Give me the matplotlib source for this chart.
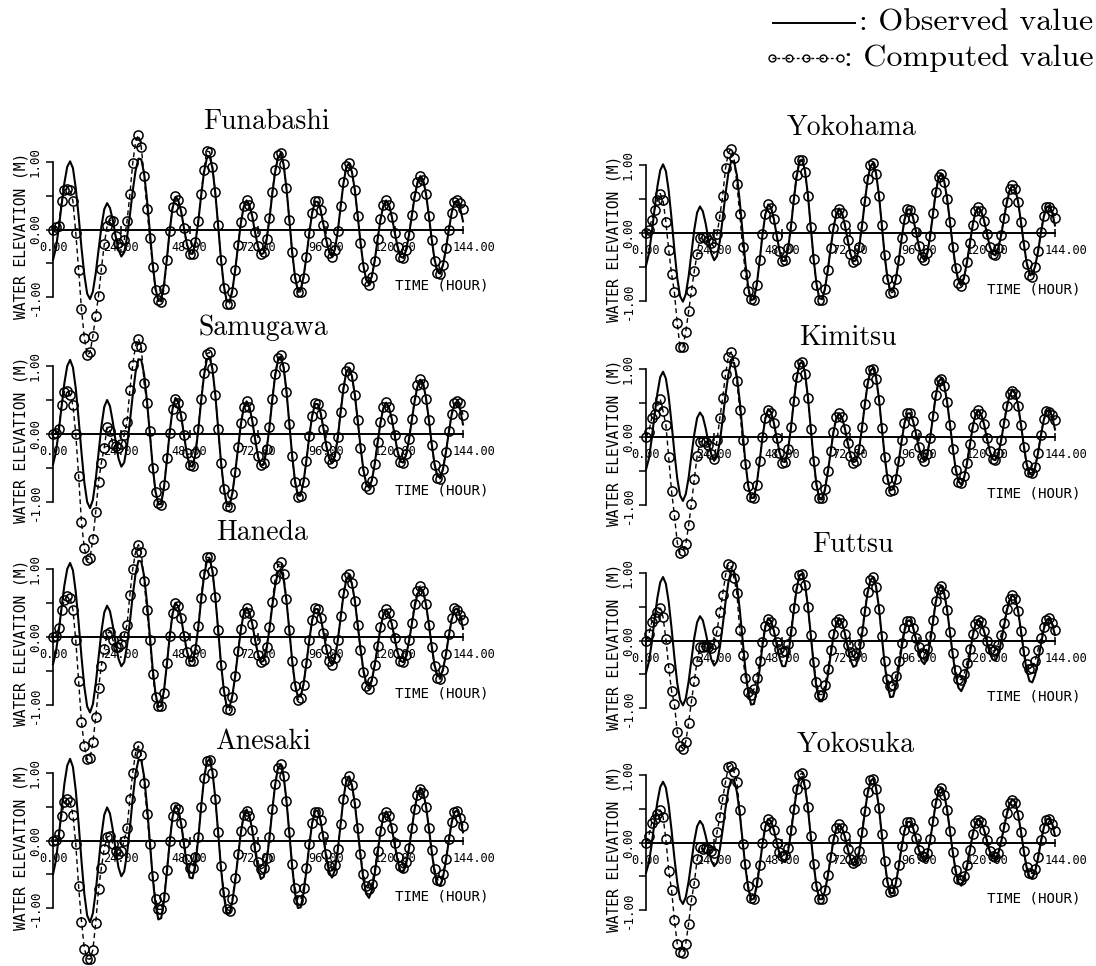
import matplotlib
matplotlib.use("Agg")
import matplotlib.pyplot as plt
from matplotlib.lines import Line2D
from matplotlib.transforms import ScaledTranslation

# ---------------------------------------------------------------- data
hours = list(range(0, 145))

station_names = ["Funabashi", "Samugawa", "Haneda", "Anesaki",
                 "Yokohama", "Kimitsu", "Futtsu", "Yokosuka"]
x_tick_hours = [0, 24, 48, 72, 96, 120, 144]
x_tick_text = ["0.00", "24.00", "48.00", "72.00", "96.00", "120.00", "144.00"]
y_tick_values = [-1.0, -0.5, 0.0, 0.5, 1.0]
y_tick_text = ["-1.00", "", "0.00", "", "1.00"]

funabashi_observed = [
    -0.45, -0.28, 0.01, 0.36, 0.69, 0.93, 1.01, 0.91, 0.61, 0.20,
    -0.27, -0.67, -0.95, -1.03, -0.92, -0.65, -0.30, 0.04, 0.30, 0.39,
    0.32, 0.14, -0.10, -0.30, -0.40, -0.34, -0.12, 0.21, 0.57, 0.87,
    1.05, 1.04, 0.83, 0.45, -0.03, -0.50, -0.87, -1.06, -1.04, -0.81,
    -0.43, -0.01, 0.32, 0.48, 0.43, 0.27, 0.02, -0.21, -0.35, -0.36,
    -0.20, 0.11, 0.49, 0.84, 1.05, 1.09, 0.91, 0.54, 0.06, -0.44,
    -0.83, -1.06, -1.07, -0.90, -0.60, -0.24, 0.10, 0.34, 0.43, 0.36,
    0.19, -0.05, -0.25, -0.37, -0.35, -0.16, 0.15, 0.52, 0.85, 1.06,
    1.12, 0.96, 0.61, 0.15, -0.33, -0.70, -0.90, -0.89, -0.70, -0.40,
    -0.06, 0.24, 0.41, 0.41, 0.29, 0.07, -0.16, -0.33, -0.40, -0.30,
    -0.03, 0.33, 0.68, 0.92, 0.98, 0.85, 0.59, 0.21, -0.19, -0.53,
    -0.74, -0.80, -0.69, -0.46, -0.15, 0.14, 0.35, 0.43, 0.37, 0.19,
    -0.04, -0.25, -0.40, -0.42, -0.31, -0.09, 0.20, 0.48, 0.69, 0.79,
    0.74, 0.53, 0.21, -0.14, -0.44, -0.62, -0.64, -0.52, -0.29, -0.01,
    0.24, 0.40, 0.42, 0.32, 0.12]
funabashi_computed = [
    0.00, 0.03, 0.05, 0.42, 0.58, 0.60, 0.59, 0.42, -0.05, -0.60,
    -1.18, -1.60, -1.86, -1.82, -1.58, -1.28, -0.98, -0.58, -0.22, 0.05,
    0.14, 0.12, -0.10, -0.20, -0.26, -0.16, 0.12, 0.52, 0.98, 1.30,
    1.40, 1.22, 0.80, 0.30, -0.12, -0.55, -0.90, -1.04, -1.07, -0.88,
    -0.45, -0.02, 0.33, 0.50, 0.44, 0.27, 0.02, -0.22, -0.36, -0.36,
    -0.19, 0.13, 0.52, 0.88, 1.16, 1.15, 0.93, 0.55, 0.06, -0.45,
    -0.86, -1.10, -1.10, -0.92, -0.60, -0.23, 0.11, 0.35, 0.44, 0.37,
    0.20, -0.04, -0.25, -0.37, -0.34, -0.14, 0.17, 0.55, 0.88, 1.10,
    1.14, 0.97, 0.61, 0.14, -0.34, -0.72, -0.93, -0.92, -0.72, -0.40,
    -0.05, 0.25, 0.42, 0.42, 0.29, 0.06, -0.18, -0.35, -0.41, -0.30,
    -0.02, 0.35, 0.70, 0.94, 0.98, 0.85, 0.58, 0.20, -0.20, -0.55,
    -0.77, -0.82, -0.70, -0.46, -0.14, 0.15, 0.36, 0.43, 0.37, 0.19,
    -0.05, -0.26, -0.41, -0.42, -0.30, -0.08, 0.22, 0.50, 0.71, 0.79,
    0.73, 0.52, 0.20, -0.15, -0.46, -0.64, -0.66, -0.53, -0.28, 0.00,
    0.25, 0.41, 0.43, 0.40, 0.30]

samugawa_observed = [
    -0.45, -0.27, 0.03, 0.40, 0.75, 1.00, 1.09, 0.98, 0.67, 0.22,
    -0.27, -0.71, -1.00, -1.09, -0.97, -0.67, -0.28, 0.11, 0.40, 0.50,
    0.41, 0.18, -0.11, -0.36, -0.48, -0.42, -0.18, 0.18, 0.57, 0.91,
    1.10, 1.09, 0.88, 0.49, 0.01, -0.47, -0.84, -1.04, -1.02, -0.78,
    -0.39, 0.03, 0.37, 0.53, 0.48, 0.27, -0.02, -0.29, -0.47, -0.48,
    -0.30, 0.05, 0.47, 0.85, 1.09, 1.13, 0.95, 0.58, 0.09, -0.41,
    -0.79, -1.03, -1.04, -0.87, -0.56, -0.20, 0.15, 0.39, 0.48, 0.40,
    0.19, -0.08, -0.33, -0.47, -0.45, -0.24, 0.09, 0.49, 0.85, 1.08,
    1.14, 0.98, 0.63, 0.16, -0.32, -0.69, -0.90, -0.89, -0.70, -0.39,
    -0.04, 0.26, 0.44, 0.44, 0.31, 0.08, -0.17, -0.36, -0.43, -0.33,
    -0.06, 0.31, 0.66, 0.91, 0.97, 0.85, 0.58, 0.21, -0.18, -0.52,
    -0.73, -0.79, -0.68, -0.44, -0.13, 0.16, 0.38, 0.46, 0.39, 0.22,
    -0.02, -0.25, -0.40, -0.42, -0.31, -0.09, 0.20, 0.48, 0.70, 0.80,
    0.75, 0.53, 0.22, -0.14, -0.44, -0.62, -0.64, -0.51, -0.27, 0.02,
    0.28, 0.44, 0.47, 0.36, 0.14]
samugawa_computed = [
    0.00, 0.01, 0.08, 0.43, 0.62, 0.63, 0.58, 0.42, 0.00, -0.62,
    -1.30, -1.68, -1.85, -1.82, -1.55, -1.15, -0.70, -0.42, -0.20, 0.10,
    0.05, -0.15, -0.18, -0.20, -0.15, -0.02, 0.18, 0.65, 1.02, 1.30,
    1.40, 1.28, 0.75, 0.45, 0.05, -0.50, -0.86, -1.02, -1.04, -0.75,
    -0.36, 0.02, 0.37, 0.51, 0.46, 0.27, -0.01, -0.28, -0.45, -0.47,
    -0.28, 0.08, 0.51, 0.90, 1.18, 1.20, 0.97, 0.58, 0.08, -0.42,
    -0.81, -1.06, -1.07, -0.88, -0.56, -0.19, 0.16, 0.40, 0.48, 0.40,
    0.19, -0.08, -0.33, -0.46, -0.43, -0.22, 0.11, 0.52, 0.88, 1.12,
    1.16, 0.98, 0.62, 0.15, -0.33, -0.71, -0.92, -0.91, -0.71, -0.39,
    -0.03, 0.27, 0.45, 0.44, 0.30, 0.07, -0.18, -0.37, -0.43, -0.32,
    -0.04, 0.33, 0.68, 0.93, 0.98, 0.85, 0.57, 0.20, -0.20, -0.54,
    -0.76, -0.81, -0.69, -0.44, -0.12, 0.17, 0.39, 0.47, 0.40, 0.22,
    -0.02, -0.26, -0.41, -0.42, -0.30, -0.07, 0.22, 0.50, 0.72, 0.81,
    0.74, 0.52, 0.20, -0.16, -0.46, -0.64, -0.66, -0.52, -0.26, 0.04,
    0.30, 0.45, 0.48, 0.45, 0.28]

haneda_observed = [
    -0.40, -0.23, 0.07, 0.43, 0.76, 1.00, 1.09, 0.98, 0.66, 0.21,
    -0.29, -0.73, -1.02, -1.11, -0.99, -0.69, -0.31, 0.08, 0.36, 0.46,
    0.38, 0.17, -0.09, -0.32, -0.43, -0.37, -0.13, 0.22, 0.61, 0.93,
    1.12, 1.11, 0.90, 0.51, 0.02, -0.46, -0.83, -1.03, -1.01, -0.78,
    -0.40, 0.01, 0.34, 0.50, 0.45, 0.28, 0.03, -0.20, -0.35, -0.36,
    -0.19, 0.13, 0.53, 0.88, 1.11, 1.15, 0.97, 0.59, 0.11, -0.39,
    -0.78, -1.02, -1.03, -0.86, -0.57, -0.22, 0.11, 0.35, 0.43, 0.36,
    0.19, -0.05, -0.25, -0.37, -0.35, -0.18, 0.11, 0.45, 0.75, 0.95,
    1.00, 0.85, 0.53, 0.10, -0.35, -0.69, -0.88, -0.87, -0.69, -0.39,
    -0.05, 0.24, 0.41, 0.41, 0.29, 0.07, -0.17, -0.34, -0.41, -0.32,
    -0.06, 0.28, 0.61, 0.84, 0.90, 0.78, 0.54, 0.19, -0.17, -0.48,
    -0.68, -0.73, -0.63, -0.41, -0.14, 0.13, 0.33, 0.40, 0.34, 0.19,
    -0.02, -0.22, -0.35, -0.37, -0.28, -0.07, 0.18, 0.44, 0.63, 0.72,
    0.67, 0.48, 0.19, -0.13, -0.41, -0.57, -0.59, -0.47, -0.26, 0.01,
    0.25, 0.40, 0.42, 0.32, 0.12]
haneda_computed = [
    0.00, 0.01, 0.13, 0.40, 0.54, 0.61, 0.58, 0.40, -0.05, -0.65,
    -1.25, -1.60, -1.80, -1.78, -1.55, -1.18, -0.75, -0.42, -0.18, 0.05,
    0.08, -0.04, -0.15, -0.15, -0.10, 0.02, 0.18, 0.62, 1.00, 1.25,
    1.36, 1.25, 0.82, 0.40, -0.05, -0.55, -0.88, -1.02, -1.02, -0.82,
    -0.38, 0.02, 0.35, 0.50, 0.45, 0.28, 0.02, -0.22, -0.36, -0.35,
    -0.17, 0.16, 0.57, 0.92, 1.17, 1.17, 0.97, 0.59, 0.10, -0.41,
    -0.80, -1.06, -1.08, -0.88, -0.57, -0.21, 0.12, 0.36, 0.43, 0.36,
    0.19, -0.05, -0.26, -0.37, -0.34, -0.15, 0.15, 0.52, 0.85, 1.05,
    1.10, 0.92, 0.56, 0.10, -0.36, -0.72, -0.92, -0.90, -0.70, -0.38,
    -0.04, 0.25, 0.42, 0.41, 0.28, 0.06, -0.18, -0.35, -0.41, -0.31,
    -0.04, 0.31, 0.64, 0.88, 0.92, 0.79, 0.53, 0.18, -0.19, -0.52,
    -0.72, -0.77, -0.65, -0.41, -0.13, 0.14, 0.34, 0.41, 0.35, 0.19,
    -0.02, -0.23, -0.36, -0.37, -0.27, -0.05, 0.21, 0.48, 0.68, 0.75,
    0.68, 0.48, 0.18, -0.15, -0.43, -0.60, -0.62, -0.49, -0.25, 0.04,
    0.28, 0.42, 0.40, 0.33, 0.25]

anesaki_observed = [
    -0.50, -0.30, 0.04, 0.45, 0.84, 1.11, 1.21, 1.09, 0.74, 0.25,
    -0.30, -0.79, -1.11, -1.21, -1.08, -0.76, -0.34, 0.07, 0.38, 0.49,
    0.40, 0.16, -0.14, -0.40, -0.53, -0.46, -0.20, 0.19, 0.62, 0.99,
    1.19, 1.19, 0.95, 0.52, -0.01, -0.54, -0.95, -1.17, -1.15, -0.89,
    -0.47, -0.02, 0.35, 0.52, 0.46, 0.25, -0.06, -0.36, -0.55, -0.56,
    -0.36, 0.02, 0.48, 0.90, 1.16, 1.21, 1.02, 0.63, 0.12, -0.41,
    -0.82, -1.07, -1.08, -0.90, -0.60, -0.23, 0.12, 0.37, 0.46, 0.37,
    0.15, -0.15, -0.42, -0.57, -0.54, -0.33, 0.03, 0.44, 0.82, 1.07,
    1.13, 0.96, 0.59, 0.11, -0.39, -0.78, -1.00, -0.99, -0.78, -0.45,
    -0.07, 0.25, 0.44, 0.44, 0.29, 0.03, -0.26, -0.47, -0.55, -0.44,
    -0.15, 0.24, 0.62, 0.88, 0.95, 0.82, 0.55, 0.17, -0.23, -0.57,
    -0.79, -0.85, -0.74, -0.49, -0.18, 0.12, 0.35, 0.43, 0.36, 0.18,
    -0.06, -0.29, -0.45, -0.47, -0.36, -0.13, 0.17, 0.46, 0.68, 0.78,
    0.72, 0.51, 0.19, -0.16, -0.47, -0.65, -0.67, -0.54, -0.30, -0.01,
    0.26, 0.42, 0.45, 0.34, 0.12]
anesaki_computed = [
    0.00, 0.01, 0.09, 0.36, 0.57, 0.62, 0.57, 0.38, -0.05, -0.68,
    -1.20, -1.60, -1.75, -1.76, -1.62, -1.22, -0.72, -0.40, -0.12, 0.05,
    0.07, -0.05, -0.16, -0.20, -0.15, 0.00, 0.18, 0.62, 1.00, 1.30,
    1.40, 1.26, 0.85, 0.40, -0.05, -0.52, -0.86, -1.02, -1.02, -0.84,
    -0.43, 0.00, 0.36, 0.50, 0.46, 0.26, -0.03, -0.27, -0.40, -0.40,
    -0.25, 0.05, 0.50, 0.92, 1.18, 1.20, 1.00, 0.62, 0.12, -0.38,
    -0.76, -1.02, -1.04, -0.86, -0.55, -0.20, 0.14, 0.38, 0.44, 0.36,
    0.16, -0.10, -0.32, -0.42, -0.40, -0.26, 0.05, 0.46, 0.84, 1.08,
    1.13, 0.95, 0.58, 0.12, -0.35, -0.70, -0.88, -0.88, -0.70, -0.40,
    -0.05, 0.26, 0.42, 0.42, 0.30, 0.06, -0.20, -0.38, -0.45, -0.37,
    -0.12, 0.25, 0.62, 0.88, 0.95, 0.82, 0.55, 0.18, -0.20, -0.50,
    -0.68, -0.72, -0.64, -0.43, -0.15, 0.14, 0.35, 0.42, 0.37, 0.19,
    -0.04, -0.24, -0.38, -0.41, -0.32, -0.11, 0.19, 0.47, 0.68, 0.77,
    0.71, 0.50, 0.18, -0.14, -0.42, -0.58, -0.60, -0.49, -0.27, 0.02,
    0.28, 0.42, 0.43, 0.34, 0.22]

yokohama_observed = [
    -0.48, -0.31, -0.01, 0.35, 0.68, 0.92, 1.01, 0.91, 0.62, 0.21,
    -0.25, -0.66, -0.93, -1.01, -0.90, -0.64, -0.29, 0.05, 0.30, 0.39,
    0.32, 0.14, -0.10, -0.30, -0.40, -0.34, -0.12, 0.21, 0.58, 0.88,
    1.06, 1.05, 0.85, 0.47, 0.01, -0.45, -0.80, -0.99, -0.97, -0.76,
    -0.41, -0.03, 0.27, 0.42, 0.38, 0.21, -0.03, -0.26, -0.41, -0.41,
    -0.24, 0.08, 0.47, 0.82, 1.04, 1.08, 0.91, 0.56, 0.10, -0.37,
    -0.74, -0.96, -0.97, -0.82, -0.55, -0.23, 0.07, 0.28, 0.36, 0.30,
    0.12, -0.10, -0.31, -0.42, -0.40, -0.22, 0.09, 0.44, 0.77, 0.98,
    1.03, 0.88, 0.56, 0.13, -0.32, -0.66, -0.85, -0.84, -0.67, -0.40,
    -0.08, 0.19, 0.34, 0.35, 0.23, 0.03, -0.18, -0.34, -0.40, -0.31,
    -0.06, 0.27, 0.59, 0.81, 0.87, 0.76, 0.51, 0.17, -0.19, -0.50,
    -0.70, -0.75, -0.65, -0.43, -0.16, 0.11, 0.31, 0.38, 0.33, 0.19,
    0.00, -0.19, -0.30, -0.33, -0.23, -0.04, 0.20, 0.44, 0.62, 0.70,
    0.65, 0.46, 0.17, -0.15, -0.43, -0.59, -0.61, -0.49, -0.28, -0.01,
    0.23, 0.38, 0.40, 0.30, 0.11]
yokohama_computed = [
    0.00, 0.05, 0.19, 0.34, 0.48, 0.58, 0.48, 0.16, -0.25, -0.60,
    -0.87, -1.33, -1.68, -1.68, -1.45, -1.15, -0.85, -0.56, -0.31, -0.08,
    -0.06, -0.06, -0.10, -0.15, -0.21, -0.02, 0.25, 0.55, 0.95, 1.18,
    1.24, 1.10, 0.72, 0.28, -0.20, -0.60, -0.86, -0.97, -0.98, -0.76,
    -0.40, -0.02, 0.28, 0.42, 0.37, 0.20, -0.04, -0.27, -0.41, -0.40,
    -0.22, 0.10, 0.50, 0.85, 1.07, 1.08, 0.90, 0.55, 0.09, -0.38,
    -0.76, -0.98, -0.99, -0.83, -0.55, -0.22, 0.08, 0.29, 0.36, 0.30,
    0.12, -0.10, -0.31, -0.42, -0.39, -0.20, 0.11, 0.47, 0.80, 1.00,
    1.03, 0.87, 0.55, 0.12, -0.33, -0.68, -0.88, -0.87, -0.68, -0.40,
    -0.07, 0.20, 0.35, 0.34, 0.22, 0.02, -0.19, -0.35, -0.40, -0.30,
    -0.04, 0.29, 0.61, 0.83, 0.87, 0.75, 0.50, 0.16, -0.20, -0.52,
    -0.73, -0.78, -0.67, -0.43, -0.15, 0.12, 0.32, 0.38, 0.33, 0.18,
    -0.01, -0.20, -0.31, -0.33, -0.22, -0.03, 0.22, 0.46, 0.64, 0.70,
    0.64, 0.45, 0.16, -0.17, -0.45, -0.62, -0.64, -0.50, -0.27, 0.01,
    0.25, 0.38, 0.38, 0.33, 0.22]

kimitsu_observed = [
    -0.48, -0.32, -0.03, 0.32, 0.64, 0.88, 0.96, 0.86, 0.59, 0.20,
    -0.23, -0.61, -0.86, -0.94, -0.84, -0.60, -0.27, 0.04, 0.28, 0.36,
    0.30, 0.13, -0.08, -0.26, -0.35, -0.29, -0.07, 0.26, 0.62, 0.92,
    1.10, 1.09, 0.89, 0.53, 0.08, -0.37, -0.72, -0.90, -0.89, -0.69,
    -0.36, -0.01, 0.27, 0.41, 0.37, 0.21, -0.01, -0.22, -0.36, -0.36,
    -0.19, 0.12, 0.50, 0.85, 1.07, 1.11, 0.94, 0.59, 0.14, -0.33,
    -0.69, -0.91, -0.92, -0.78, -0.52, -0.22, 0.07, 0.28, 0.35, 0.29,
    0.13, -0.08, -0.27, -0.37, -0.35, -0.18, 0.12, 0.46, 0.77, 0.97,
    1.02, 0.88, 0.57, 0.15, -0.27, -0.60, -0.78, -0.77, -0.61, -0.35,
    -0.06, 0.20, 0.34, 0.35, 0.24, 0.06, -0.14, -0.29, -0.35, -0.26,
    -0.03, 0.29, 0.60, 0.81, 0.87, 0.76, 0.52, 0.19, -0.16, -0.46,
    -0.65, -0.70, -0.60, -0.39, -0.12, 0.14, 0.33, 0.40, 0.34, 0.19,
    -0.01, -0.20, -0.32, -0.34, -0.25, -0.06, 0.19, 0.43, 0.61, 0.70,
    0.65, 0.47, 0.19, -0.12, -0.39, -0.54, -0.56, -0.45, -0.24, 0.01,
    0.24, 0.38, 0.40, 0.30, 0.11]
kimitsu_computed = [
    0.00, 0.08, 0.28, 0.34, 0.45, 0.56, 0.38, 0.18, -0.30, -0.80,
    -1.15, -1.55, -1.70, -1.68, -1.58, -1.30, -0.98, -0.62, -0.28, -0.07,
    -0.06, -0.07, -0.12, -0.25, -0.33, -0.05, 0.28, 0.58, 0.92, 1.18,
    1.25, 1.10, 0.82, 0.40, -0.05, -0.40, -0.72, -0.88, -0.90, -0.70,
    -0.36, 0.00, 0.28, 0.40, 0.36, 0.21, -0.02, -0.24, -0.38, -0.37,
    -0.18, 0.14, 0.53, 0.88, 1.08, 1.10, 0.92, 0.57, 0.12, -0.35,
    -0.71, -0.89, -0.89, -0.76, -0.50, -0.20, 0.08, 0.29, 0.35, 0.29,
    0.12, -0.09, -0.28, -0.38, -0.35, -0.17, 0.14, 0.48, 0.79, 0.98,
    1.00, 0.86, 0.55, 0.13, -0.29, -0.62, -0.79, -0.78, -0.62, -0.35,
    -0.05, 0.21, 0.35, 0.35, 0.23, 0.05, -0.15, -0.30, -0.35, -0.25,
    -0.01, 0.31, 0.62, 0.82, 0.86, 0.75, 0.51, 0.18, -0.17, -0.48,
    -0.66, -0.68, -0.58, -0.38, -0.11, 0.15, 0.34, 0.40, 0.34, 0.19,
    -0.01, -0.21, -0.33, -0.34, -0.24, -0.05, 0.21, 0.45, 0.63, 0.68,
    0.63, 0.45, 0.17, -0.14, -0.41, -0.52, -0.53, -0.44, -0.23, 0.03,
    0.26, 0.38, 0.37, 0.33, 0.25]

futtsu_observed = [
    -0.48, -0.32, -0.04, 0.31, 0.63, 0.86, 0.94, 0.84, 0.57, 0.18,
    -0.25, -0.63, -0.88, -0.96, -0.86, -0.61, -0.28, 0.04, 0.27, 0.36,
    0.30, 0.12, -0.09, -0.28, -0.37, -0.31, -0.10, 0.22, 0.57, 0.86,
    1.03, 1.02, 0.83, 0.46, 0.02, -0.43, -0.77, -0.95, -0.94, -0.74,
    -0.43, -0.08, 0.20, 0.33, 0.29, 0.15, -0.06, -0.25, -0.38, -0.38,
    -0.23, 0.07, 0.43, 0.75, 0.96, 0.99, 0.83, 0.51, 0.09, -0.35,
    -0.69, -0.90, -0.90, -0.76, -0.52, -0.22, 0.06, 0.26, 0.33, 0.27,
    0.11, -0.10, -0.29, -0.39, -0.37, -0.20, 0.07, 0.40, 0.70, 0.89,
    0.94, 0.80, 0.49, 0.08, -0.34, -0.66, -0.84, -0.83, -0.67, -0.41,
    -0.11, 0.14, 0.29, 0.30, 0.20, 0.03, -0.16, -0.30, -0.35, -0.27,
    -0.04, 0.26, 0.56, 0.76, 0.81, 0.70, 0.46, 0.13, -0.21, -0.51,
    -0.70, -0.75, -0.66, -0.45, -0.19, 0.06, 0.24, 0.31, 0.27, 0.14,
    -0.02, -0.18, -0.28, -0.30, -0.21, -0.03, 0.20, 0.43, 0.60, 0.68,
    0.63, 0.44, 0.15, -0.17, -0.44, -0.60, -0.62, -0.51, -0.31, -0.07,
    0.16, 0.30, 0.33, 0.24, 0.08]
futtsu_computed = [
    0.00, 0.09, 0.27, 0.34, 0.42, 0.48, 0.35, 0.02, -0.40, -0.75,
    -0.94, -1.35, -1.56, -1.60, -1.50, -1.22, -0.90, -0.60, -0.30, -0.09,
    -0.09, -0.08, -0.09, -0.11, -0.05, 0.14, 0.42, 0.68, 0.97, 1.13,
    1.10, 0.92, 0.70, 0.15, -0.22, -0.55, -0.76, -0.80, -0.72, -0.55,
    -0.30, -0.02, 0.22, 0.32, 0.28, 0.14, -0.02, -0.12, -0.17, -0.15,
    -0.05, 0.14, 0.48, 0.78, 0.97, 0.99, 0.82, 0.50, 0.08, -0.32,
    -0.62, -0.80, -0.80, -0.66, -0.42, -0.14, 0.10, 0.27, 0.32, 0.26,
    0.10, -0.06, -0.17, -0.22, -0.18, -0.05, 0.14, 0.44, 0.72, 0.90,
    0.94, 0.79, 0.47, 0.06, -0.30, -0.57, -0.68, -0.66, -0.52, -0.30,
    -0.04, 0.18, 0.29, 0.29, 0.19, 0.03, -0.10, -0.18, -0.20, -0.12,
    0.06, 0.30, 0.58, 0.77, 0.81, 0.69, 0.45, 0.12, -0.19, -0.44,
    -0.57, -0.58, -0.50, -0.33, -0.12, 0.09, 0.25, 0.31, 0.27, 0.14,
    0.00, -0.12, -0.16, -0.14, -0.06, 0.08, 0.26, 0.46, 0.61, 0.68,
    0.62, 0.43, 0.14, -0.15, -0.35, -0.42, -0.40, -0.30, -0.14, 0.04,
    0.20, 0.31, 0.33, 0.26, 0.16]

yokosuka_observed = [
    -0.45, -0.30, -0.03, 0.30, 0.60, 0.82, 0.90, 0.81, 0.55, 0.18,
    -0.23, -0.59, -0.84, -0.91, -0.81, -0.58, -0.28, 0.02, 0.24, 0.32,
    0.26, 0.10, -0.09, -0.27, -0.35, -0.30, -0.10, 0.19, 0.51, 0.78,
    0.93, 0.93, 0.75, 0.43, 0.03, -0.37, -0.68, -0.85, -0.83, -0.65,
    -0.35, -0.03, 0.23, 0.35, 0.32, 0.19, 0.01, -0.17, -0.28, -0.29,
    -0.14, 0.13, 0.45, 0.75, 0.94, 0.97, 0.82, 0.51, 0.10, -0.31,
    -0.64, -0.84, -0.84, -0.72, -0.50, -0.23, 0.03, 0.21, 0.27, 0.22,
    0.09, -0.09, -0.25, -0.34, -0.32, -0.16, 0.11, 0.43, 0.72, 0.90,
    0.95, 0.81, 0.52, 0.13, -0.27, -0.58, -0.75, -0.75, -0.60, -0.35,
    -0.07, 0.17, 0.30, 0.31, 0.22, 0.07, -0.10, -0.22, -0.27, -0.19,
    0.02, 0.30, 0.57, 0.76, 0.81, 0.71, 0.49, 0.18, -0.14, -0.42,
    -0.59, -0.64, -0.55, -0.36, -0.12, 0.11, 0.29, 0.35, 0.31, 0.19,
    0.03, -0.13, -0.23, -0.25, -0.17, 0.00, 0.21, 0.41, 0.57, 0.64,
    0.60, 0.42, 0.17, -0.12, -0.37, -0.51, -0.53, -0.43, -0.24, 0.00,
    0.21, 0.34, 0.36, 0.28, 0.10]
yokosuka_computed = [
    0.00, 0.10, 0.29, 0.35, 0.42, 0.48, 0.38, 0.05, -0.42, -0.70,
    -1.15, -1.50, -1.62, -1.63, -1.50, -1.20, -0.85, -0.60, -0.25, -0.06,
    -0.10, -0.08, -0.10, -0.12, -0.15, 0.15, 0.38, 0.65, 0.90, 1.12,
    1.14, 1.05, 0.90, 0.48, -0.02, -0.32, -0.64, -0.82, -0.84, -0.58,
    -0.33, -0.01, 0.25, 0.35, 0.31, 0.18, 0.00, -0.14, -0.20, -0.18,
    -0.08, 0.18, 0.50, 0.80, 1.00, 1.03, 0.86, 0.52, 0.10, -0.32,
    -0.65, -0.83, -0.84, -0.70, -0.48, -0.21, 0.05, 0.22, 0.27, 0.22,
    0.09, -0.09, -0.24, -0.30, -0.27, -0.12, 0.15, 0.47, 0.75, 0.92,
    0.94, 0.80, 0.51, 0.12, -0.28, -0.59, -0.73, -0.72, -0.58, -0.33,
    -0.05, 0.18, 0.31, 0.31, 0.21, 0.06, -0.11, -0.20, -0.22, -0.15,
    0.05, 0.32, 0.59, 0.77, 0.81, 0.70, 0.48, 0.17, -0.14, -0.40,
    -0.54, -0.56, -0.49, -0.33, -0.11, 0.12, 0.29, 0.34, 0.30, 0.19,
    0.03, -0.12, -0.20, -0.22, -0.15, 0.02, 0.23, 0.43, 0.58, 0.63,
    0.59, 0.41, 0.15, -0.13, -0.36, -0.45, -0.46, -0.39, -0.22, 0.03,
    0.22, 0.33, 0.35, 0.28, 0.17]

observed = {
    "Funabashi": funabashi_observed, "Samugawa": samugawa_observed,
    "Haneda": haneda_observed, "Anesaki": anesaki_observed,
    "Yokohama": yokohama_observed, "Kimitsu": kimitsu_observed,
    "Futtsu": futtsu_observed, "Yokosuka": yokosuka_observed,
}
computed = {
    "Funabashi": funabashi_computed, "Samugawa": samugawa_computed,
    "Haneda": haneda_computed, "Anesaki": anesaki_computed,
    "Yokohama": yokohama_computed, "Kimitsu": kimitsu_computed,
    "Futtsu": futtsu_computed, "Yokosuka": yokosuka_computed,
}
for _name in station_names:
    for _kind, _series in (("observed", observed[_name]), ("computed", computed[_name])):
        if len(_series) != len(hours):
            raise ValueError(f"{_name} {_kind}: {len(_series)} values")

# ---------------------------------------------------------------- layout
W, H = 1096, 966
fig = plt.figure(figsize=(W / 100, H / 100), dpi=100)
fig.patch.set_facecolor("white")

# axes frames in pixels: left, right, top (y=+1), bottom (y=-1)
frames = {
    "Funabashi": (53, 463, 162, 297),
    "Samugawa": (53, 463, 366, 502),
    "Haneda": (53, 463, 569, 705),
    "Anesaki": (53, 463, 773, 908),
    "Yokohama": (646, 1055, 165, 301),
    "Kimitsu": (646, 1055, 369, 505),
    "Futtsu": (646, 1055, 573, 708),
    "Yokosuka": (646, 1055, 775, 910),
}
title_centres = {
    "Funabashi": (266, 122), "Samugawa": (263, 328),
    "Haneda": (262, 533), "Anesaki": (263, 742),
    "Yokohama": (852, 128), "Kimitsu": (848, 338),
    "Futtsu": (853, 545), "Yokosuka": (856, 745),
}

MONO = "DejaVu Sans Mono"
SERIF = "cmr10"

for name in station_names:
    l, r, t, b = frames[name]
    ax = fig.add_axes([l / W, 1 - b / H, (r - l) / W, (b - t) / H])
    ax.set_xlim(0, 144)
    ax.set_ylim(-1, 1)
    ax.patch.set_visible(False)
    for side in ("top", "right"):
        ax.spines[side].set_visible(False)
    ax.spines["left"].set_bounds(-1, 1)
    ax.spines["left"].set_linewidth(1.2)
    ax.spines["bottom"].set_position(("data", 0))
    ax.spines["bottom"].set_bounds(0, 144)
    ax.spines["bottom"].set_linewidth(1.4)

    ax.set_xticks(x_tick_hours)
    ax.set_xticklabels(x_tick_text, family=MONO, fontsize=8.6)
    ax.tick_params(axis="x", direction="inout", length=6, width=1.1, pad=5)
    # the last hour label sits just past the end of the time axis
    last_label = ax.xaxis.get_major_ticks()[-1].label1
    last_label.set_transform(last_label.get_transform()
                             + ScaledTranslation(0.11, 0, fig.dpi_scale_trans))

    ax.set_yticks(y_tick_values)
    ax.set_yticklabels(y_tick_text, family=MONO, fontsize=9, rotation=90, va="center")
    ax.tick_params(axis="y", direction="out", length=5, width=1.1, pad=3)

    ax.text(-32 / (r - l), 0.5 - 6 / (b - t), "WATER ELEVATION (M)",
            transform=ax.transAxes, rotation=90, ha="center", va="center",
            family=MONO, fontsize=10.5)
    ax.text(153, -0.83, "TIME (HOUR)", ha="right", va="center",
            family=MONO, fontsize=10.2)

    ax.plot(hours, observed[name], color="black", lw=1.5,
            solid_joinstyle="round", clip_on=False, zorder=3)
    ax.plot(hours, computed[name], color="black", lw=1.0,
            linestyle=(0, (3.5, 2.5)), marker="o", markersize=6.6,
            markerfacecolor="none", markeredgecolor="black",
            markeredgewidth=1.1, clip_on=False, zorder=4)

    tx, ty = title_centres[name]
    fig.text(tx / W, 1 - ty / H, name, ha="center", va="center",
             family=SERIF, fontsize=20)

# ---------------------------------------------------------------- key
renderer = fig.canvas.get_renderer()
key_rows = [(23, ": Observed value", "observed", 82),
            (58, ": Computed value", "computed", 68)]
for y_px, label, kind, key_len in key_rows:
    txt = fig.text(1093 / W, 1 - y_px / H, label, ha="right", va="center",
                   family=SERIF, fontsize=23)
    bb = txt.get_window_extent(renderer=renderer)
    x_end = bb.x0 - 4
    x_start = x_end - key_len
    y = 1 - y_px / H
    if kind == "observed":
        fig.add_artist(Line2D([x_start / W, x_end / W], [y, y],
                              color="black", lw=1.4))
    else:
        xs = [(x_start + k * (x_end - x_start) / 4) / W for k in range(5)]
        fig.add_artist(Line2D(xs, [y] * 5, color="black", lw=1.0,
                              linestyle=(0, (2, 1.5)), marker="o",
                              markersize=5, markerfacecolor="none",
                              markeredgecolor="black", markeredgewidth=1.0))

fig.savefig("out.png", dpi=100, facecolor="white")
